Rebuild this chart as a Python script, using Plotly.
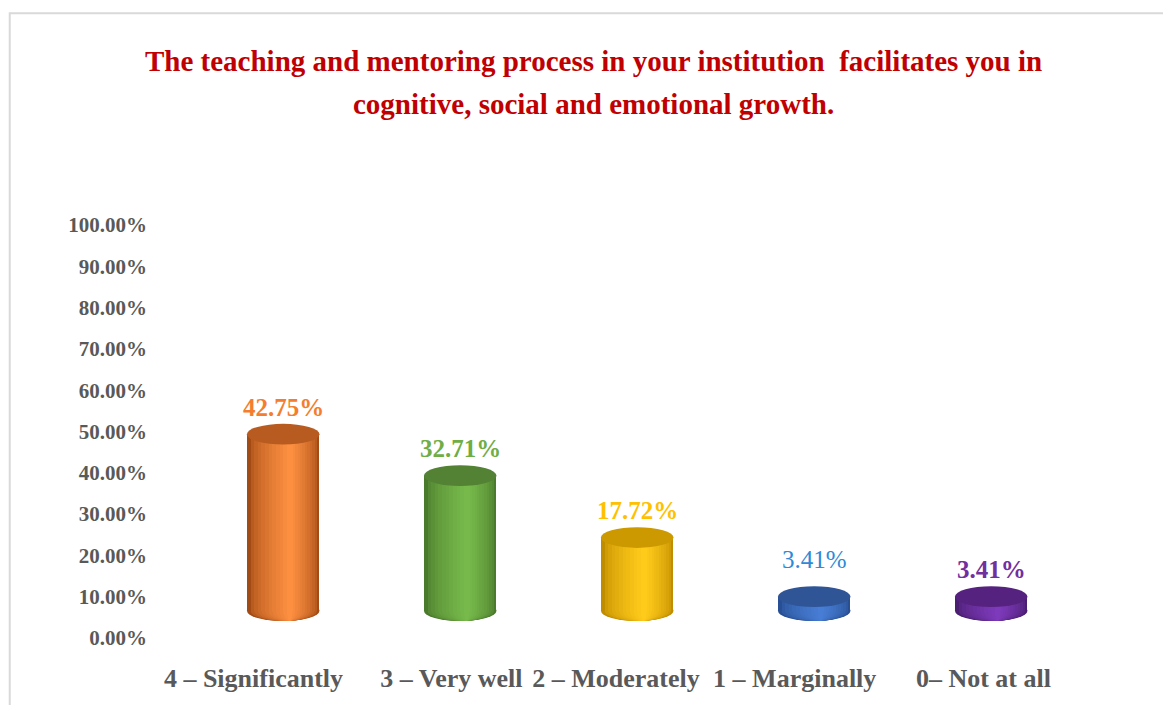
import plotly.graph_objects as go

# ---- data ----
categories = ["4 – Significantly", "3 – Very well", "2 – Moderately", "1 – Marginally", "0– Not at all"]
values = [42.75, 32.71, 17.72, 3.41, 3.41]
value_labels = ["42.75%", "32.71%", "17.72%", "3.41%", "3.41%"]
y_ticks = [0, 10, 20, 30, 40, 50, 60, 70, 80, 90, 100]
y_tick_text = [f"{v:.2f}%" for v in y_ticks]

# ---- style ----
FONT = "Liberation Serif"
BASE = 6.6          # 3-D floor lift of the cylinders (style)
SHIFT = 0.1         # cylinders sit a little right of the label (perspective)
BAR_W = 0.41
ELL_H = 2.5         # half height of cylinder caps, in axis units
N_LAYERS = 12
label_nudge = [-0.068, 0.05, -0.02, -0.01, 0.056]   # category-label placement tweaks
value_label_lift = [0, 0, 0, 10, 0]                 # extra px lift of value labels
label_colors = ["#F47D2E", "#6FAD45", "#FFC000", "#2E8AD8", "#7030A0"]
label_weights = ["bold", "bold", "bold", "normal", "bold"]
top_colors = ["#B85B20", "#538234", "#CC9A00", "#2F5597", "#56227F"]
edge_colors = ["#A34B15", "#4A7A2B", "#C08C00", "#284F94", "#4A1E70"]
light_colors = ["#FC8F40", "#77BA4B", "#FFCB1A", "#477DD4", "#7D3ABA"]


def hex2rgb(h):
    h = h.lstrip("#")
    return [int(h[i:i + 2], 16) for i in (0, 2, 4)]


def blend(a, b, t):
    ra, rb = hex2rgb(a), hex2rgb(b)
    return "rgb(%d,%d,%d)" % tuple(round(ra[i] + (rb[i] - ra[i]) * t) for i in range(3))


pos = list(range(len(categories)))
xc = [p + SHIFT for p in pos]
tick_pos = [p + n for p, n in zip(pos, label_nudge)]

fig = go.Figure()
shapes = []
for k in range(N_LAYERS):
    f = k / (N_LAYERS - 1)
    wf = 1.0 - 0.92 * f
    sf = 0.09 * f
    t = f ** 0.6
    w = BAR_W * wf
    xs = [x + sf * BAR_W for x in xc]
    cols = [blend(e, l, t) for e, l in zip(edge_colors, light_colors)]
    fig.add_trace(go.Bar(x=xs, y=values, base=BASE, width=w,
                         marker=dict(color=cols, line=dict(width=0)),
                         hoverinfo="skip", showlegend=False))
    for x, c in zip(xs, cols):
        shapes.append(dict(type="circle", xref="x", yref="y", layer="below",
                           x0=x - w / 2, x1=x + w / 2, y0=BASE - ELL_H, y1=BASE + ELL_H,
                           fillcolor=c, line=dict(width=0)))

for x, v, c in zip(xc, values, top_colors):
    top = BASE + v
    shapes.append(dict(type="circle", xref="x", yref="y", layer="above",
                       x0=x - BAR_W / 2, x1=x + BAR_W / 2, y0=top - ELL_H, y1=top + ELL_H,
                       fillcolor=c, line=dict(width=0)))

# chart-area frame
shapes.append(dict(type="rect", xref="paper", yref="paper",
                   x0=-0.189, x1=1.15, y0=-0.2, y1=1.513,
                   line=dict(color="#D9D9D9", width=2), fillcolor="rgba(0,0,0,0)", layer="below"))

annotations = []
for x, v, t, c, wt, lift in zip(xc, values, value_labels, label_colors, label_weights, value_label_lift):
    annotations.append(dict(x=x, y=BASE + v, xref="x", yref="y", text=t, showarrow=False,
                            yshift=27 + lift, font=dict(family=FONT, size=25, color=c, weight=wt)))

annotations.append(dict(x=0.471, y=1.398, xref="paper", yref="paper", showarrow=False,
                        yanchor="middle",
                        text="The teaching and mentoring process in your institution  facilitates you in",
                        font=dict(family=FONT, size=29, color="#C00000", weight="bold")))
annotations.append(dict(x=0.471, y=1.294, xref="paper", yref="paper", showarrow=False,
                        yanchor="middle",
                        text="cognitive, social and emotional growth.",
                        font=dict(family=FONT, size=29, color="#C00000", weight="bold")))

fig.update_layout(
    width=1155, height=697,
    margin=dict(l=169, r=101, t=217, b=65),
    paper_bgcolor="white", plot_bgcolor="white",
    barmode="overlay", bargap=0,
    shapes=shapes, annotations=annotations,
    showlegend=False,
    xaxis=dict(range=[-0.5, 4.5], tickmode="array", tickvals=tick_pos, ticktext=categories,
               showgrid=False, zeroline=False, showline=False, ticks="",
               ticklabelstandoff=22,
               tickfont=dict(family=FONT, size=26, color="#595959", weight="bold")),
    yaxis=dict(range=[0, 100], tickmode="array", tickvals=y_ticks, ticktext=y_tick_text,
               showgrid=False, zeroline=False, showline=False, ticks="",
               ticklabelstandoff=29,
               tickfont=dict(family=FONT, size=21, color="#595959", weight="bold")),
)

fig.write_html("out.html")
